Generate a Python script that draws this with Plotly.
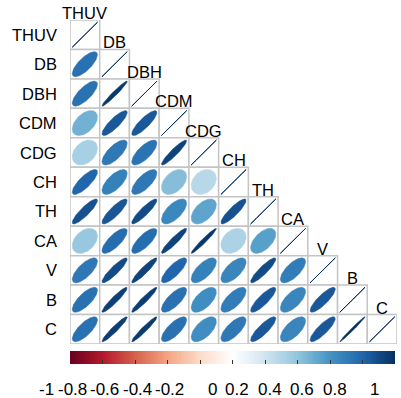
import numpy as np
import plotly.graph_objects as go

labels = ["THUV", "DB", "DBH", "CDM", "CDG", "CH", "TH", "CA", "V", "B", "C"]

# lower triangle correlations, row by row (excluding diagonal)
corr_rows = [
    [],
    [0.75],
    [0.75, 0.97],
    [0.48, 0.85, 0.85],
    [0.33, 0.72, 0.74, 0.93],
    [0.80, 0.68, 0.72, 0.43, 0.28],
    [0.88, 0.86, 0.90, 0.65, 0.53, 0.88],
    [0.38, 0.77, 0.77, 0.93, 0.97, 0.32, 0.55],
    [0.72, 0.90, 0.93, 0.80, 0.68, 0.66, 0.90, 0.70],
    [0.75, 0.94, 0.95, 0.75, 0.62, 0.70, 0.85, 0.66, 0.85],
    [0.75, 0.95, 0.96, 0.75, 0.62, 0.72, 0.85, 0.66, 0.85, 0.99],
]

legend_ticks = [-1, -0.8, -0.6, -0.4, -0.2, 0, 0.2, 0.4, 0.6, 0.8, 1]
legend_tick_text = ["-1", "-0.8", "-0.6", "-0.4", "-0.2", "0", "0.2", "0.4", "0.6", "0.8", "1"]

palette = ["#67001F", "#B2182B", "#D6604D", "#F4A582", "#FDDBC7", "#FFFFFF",
           "#D1E5F0", "#92C5DE", "#4393C3", "#2166AC", "#053061"]


def hex2rgb(h):
    return tuple(int(h[i:i + 2], 16) for i in (1, 3, 5))


def color_of(r):
    pos = (r + 1) / 2 * (len(palette) - 1)
    i = int(np.floor(pos))
    if i >= len(palette) - 1:
        return palette[-1]
    f = pos - i
    a, b = hex2rgb(palette[i]), hex2rgb(palette[i + 1])
    c = [round(a[k] + (b[k] - a[k]) * f) for k in range(3)]
    return "rgb(%d,%d,%d)" % tuple(c)


FONT = "Arial, Liberation Sans, sans-serif"
n = len(labels)
fig = go.Figure()
shapes = []
annotations = []

k = np.linspace(0, 2 * np.pi, 120)
for i in range(n):
    row = corr_rows[i] + [1.0]
    for j, r in enumerate(row):
        cx, cy = j + 1, i + 1
        shapes.append(dict(type="rect", xref="x", yref="y",
                           x0=cx - 0.5, x1=cx + 0.5, y0=cy - 0.5, y1=cy + 0.5,
                           line=dict(color="#C4C4C4", width=1.5), fillcolor="white",
                           layer="below"))
        d = np.arccos(min(r, 1.0))
        ex = 0.425 * np.cos(k + d / 2)
        ey = 0.425 * np.cos(k - d / 2)
        c = color_of(r)
        if r >= 0.999:
            fig.add_trace(go.Scatter(x=cx + ex, y=cy - ey, mode="lines",
                                     line=dict(color=c, width=1),
                                     hoverinfo="skip", showlegend=False))
        else:
            fig.add_trace(go.Scatter(x=cx + ex, y=cy - ey, mode="lines", fill="toself",
                                     fillcolor=c, line=dict(color=c, width=0.5),
                                     hoverinfo="skip", showlegend=False))
    # row label
    annotations.append(dict(x=0.5, y=i + 1, xref="x", yref="y", text=labels[i],
                            showarrow=False, xanchor="right", xshift=-11,
                            font=dict(family=FONT, size=16.5, color="black")))
    # column label over diagonal
    annotations.append(dict(x=i + 1, y=i + 0.5, xref="x", yref="y", text=labels[i],
                            showarrow=False, xanchor="center", yanchor="bottom", yshift=-4,
                            font=dict(family=FONT, size=16.5, color="black")))

# colour legend
zx = np.linspace(-1, 1, 201)
zx = (zx[:-1] + zx[1:]) / 2
cs = [[i / (len(palette) - 1), p] for i, p in enumerate(palette)]
fig.add_trace(go.Heatmap(x=zx, y=[0], z=[zx], xaxis="x2", yaxis="y2",
                         colorscale=cs, zmin=-1, zmax=1, showscale=False,
                         hoverinfo="skip"))
W, H = 401, 398
ml, mr, mt, mb = 70, 4, 20, 0
ph = H - mt - mb
for v, t in zip(legend_ticks, legend_tick_text):
    annotations.append(dict(x=v, y=(H - 389) / ph, xref="x2", yref="paper", text=t,
                            showarrow=False, xanchor="right", yanchor="middle",
                            xshift=-14,
                            font=dict(family=FONT, size=17, color="black")))

fig.update_layout(
    width=W, height=H,
    margin=dict(l=ml, r=mr, t=mt, b=mb),
    paper_bgcolor="white", plot_bgcolor="white",
    shapes=shapes, annotations=annotations,
    xaxis=dict(range=[0.5, n + 0.5], domain=[0, 1], visible=False, fixedrange=True),
    yaxis=dict(range=[n + 0.5, 0.5], domain=[(H - 344) / ph, 1], visible=False, fixedrange=True),
    xaxis2=dict(range=[-1, 1], domain=[0, 325 / 327], anchor="y2",
                showticklabels=False, ticks="inside", ticklen=4, tickcolor="#333",
                tickvals=legend_ticks[1:-1], showgrid=False, zeroline=False,
                showline=False, fixedrange=True),
    yaxis2=dict(range=[-0.5, 0.5], domain=[(H - 364) / ph, (H - 351) / ph], anchor="x2",
                visible=False, fixedrange=True),
)
fig.write_html("out.html", config={"displayModeBar": False},
               post_script="document.body.style.margin='0';")
